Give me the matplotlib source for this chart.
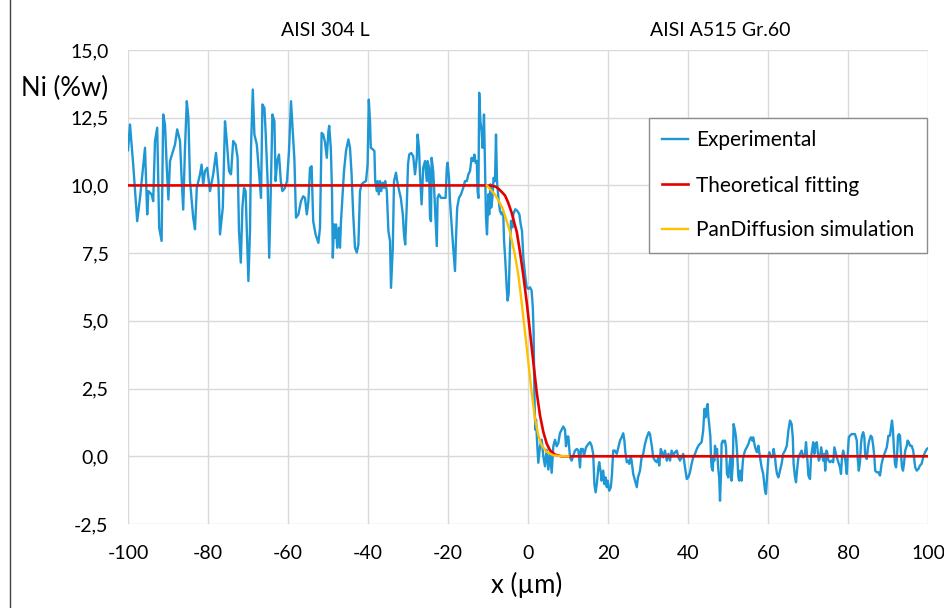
import matplotlib
matplotlib.use("Agg")
import matplotlib.pyplot as plt
import matplotlib.transforms as mtransforms
from matplotlib.lines import Line2D
from matplotlib.ticker import FuncFormatter

plt.rcParams['font.family'] = ['Lato', 'DejaVu Sans']

# ---------------- data ----------------
exp_x = [-100.0, -99.5, -98.7, -97.7, -97.0, -95.75, -95.2, -94.9, -94.1, -93.7, -93.25, -92.7, -92.2, -91.6,
         -91.2, -90.75, -90.3, -89.9, -89.5, -88.25, -87.7, -87.0, -86.6, -86.2, -85.75, -85.3, -84.9, -84.5,
         -83.7, -83.25, -82.8, -82.0, -81.6, -81.2, -80.75, -80.2, -79.5, -78.7, -78.0, -77.4, -77.0, -76.3,
         -75.75, -75.3, -74.75, -74.25, -73.7, -73.1, -72.6, -72.25, -71.8, -71.4, -71.0, -70.6, -70.3, -69.9,
         -69.5, -69.25, -68.8, -68.4, -67.8, -67.4, -66.75, -66.4, -65.9, -65.6, -65.1, -64.7, -64.25, -63.9,
         -63.4, -63.1, -62.7, -62.25, -61.8, -61.4, -60.75, -60.25, -59.75, -59.25, -58.8, -58.4, -58.0, -57.4,
         -56.75, -56.2, -55.75, -55.3, -54.9, -54.5, -54.1, -53.7, -53.1, -52.4, -52.0, -51.6, -51.2, -50.75,
         -50.3, -49.9, -49.7, -49.3, -49.0, -48.8, -48.5, -48.25, -48.0, -47.7, -47.3, -47.0, -46.75, -46.3,
         -46.0, -45.5, -44.9, -44.5, -44.1, -43.7, -43.25, -42.8, -42.4, -42.0, -41.6, -41.2, -40.5, -40.1,
         -39.8, -39.5, -39.3, -38.8, -38.4, -38.2, -37.8, -37.6, -37.3, -37.0, -36.7, -36.3, -36.0, -35.7,
         -35.3, -34.9, -34.5, -34.25, -33.8, -33.5, -33.0, -32.7, -32.2, -31.8, -31.3, -31.0, -30.7, -30.3,
         -30.0, -29.7, -29.2, -28.7, -28.25, -27.8, -27.6, -27.25, -27.0, -26.75, -26.6, -26.2, -25.75, -25.3,
         -25.1, -24.75, -24.5, -24.25, -24.1, -23.7, -23.4, -23.1, -22.8, -22.6, -22.25, -21.75, -21.2, -20.6,
         -20.3, -20.1, -19.75, -19.5, -19.1, -18.7, -18.25, -18.0, -17.7, -17.25, -16.75, -16.2, -15.75, -15.3,
         -14.9, -14.5, -14.1, -13.7, -13.4, -13.1, -12.8, -12.6, -12.4, -12.2, -11.9, -11.6, -11.35, -11.0,
         -10.75, -10.5, -10.25, -9.9, -9.7, -9.4, -9.2, -8.9, -8.6, -8.25, -8.0, -7.75, -7.4, -7.0,
         -6.6, -6.2, -6.0, -5.67, -5.33, -5.1, -4.83, -4.5, -4.25, -3.9, -3.67, -3.17, -2.67, -2.17,
         -1.83, -1.5, -1.17, -0.75, -0.33, 0.08, 0.5, 0.9, 1.2, 1.4, 1.55, 1.7, 1.85, 2.0,
         2.33, 2.58, 3.0, 3.42, 3.83, 4.25, 4.67, 5.08, 5.5, 5.92, 6.33, 6.75, 7.17, 7.58,
         8.0, 8.42, 8.83, 9.25, 9.5, 9.83, 10.08, 10.5, 10.9, 11.3, 11.75, 12.2, 12.6, 13.0,
         13.25, 13.7, 14.0, 14.5, 15.1, 15.5, 15.9, 16.3, 16.6, 16.9, 17.2, 17.6, 17.8, 18.2,
         18.4, 18.8, 19.1, 19.4, 19.7, 19.9, 20.3, 20.7, 21.0, 21.3, 21.7, 22.2, 22.6, 23.0,
         23.4, 23.8, 24.1, 24.3, 24.7, 25.1, 25.3, 25.7, 25.9, 26.3, 26.75, 27.2, 27.5, 27.75,
         28.0, 28.4, 28.8, 29.25, 29.7, 30.2, 30.5, 30.75, 31.0, 31.3, 31.75, 32.2, 32.6, 32.8,
         33.2, 33.5, 33.8, 34.25, 34.7, 35.1, 35.5, 35.9, 36.3, 36.75, 37.2, 37.6, 38.0, 38.4,
         38.8, 39.25, 39.7, 40.1, 40.5, 40.9, 41.3, 41.75, 42.2, 42.6, 43.0, 43.4, 43.8, 44.1,
         44.4, 44.7, 44.9, 45.1, 45.3, 45.6, 45.75, 45.9, 46.2, 46.3, 46.6, 46.75, 47.0, 47.25,
         47.6, 47.8, 48.0, 48.25, 48.4, 48.7, 48.9, 49.25, 49.5, 49.75, 50.1, 50.3, 50.6, 50.9,
         51.2, 51.4, 51.75, 52.0, 52.25, 52.6, 52.8, 53.1, 53.4, 53.6, 53.8, 54.25, 54.7, 55.1,
         55.5, 55.75, 56.1, 56.3, 56.6, 56.9, 57.25, 57.6, 58.0, 58.4, 58.8, 59.25, 59.5, 59.75,
         60.1, 60.3, 60.6, 60.9, 61.2, 61.4, 61.75, 62.0, 62.25, 62.6, 63.0, 63.4, 63.8, 64.25,
         64.7, 65.1, 65.5, 65.9, 66.2, 66.4, 66.75, 67.0, 67.25, 67.6, 68.0, 68.4, 68.8, 69.25,
         69.5, 69.8, 70.1, 70.5, 70.75, 71.0, 71.3, 71.6, 71.8, 72.2, 72.4, 72.7, 73.0, 73.3,
         73.6, 73.8, 74.1, 74.3, 74.6, 74.8, 75.1, 75.5, 75.9, 76.3, 76.6, 76.8, 77.2, 77.6,
         78.0, 78.25, 78.5, 78.8, 79.2, 79.4, 79.7, 79.9, 80.2, 80.5, 80.9, 81.3, 81.75, 82.2,
         82.4, 82.7, 83.0, 83.25, 83.5, 83.8, 84.1, 84.3, 84.7, 85.0, 85.3, 85.7, 86.0, 86.3,
         86.6, 86.8, 87.2, 87.6, 88.0, 88.4, 88.8, 89.25, 89.7, 90.1, 90.5, 90.75, 91.0, 91.25,
         91.5, 91.75, 92.0, 92.25, 92.5, 92.75, 93.0, 93.25, 93.5, 93.75, 94.0, 94.3, 94.7, 94.9,
         95.2, 95.5, 95.9, 96.3, 96.6, 96.8, 97.2, 97.6, 98.0, 98.4, 98.8, 99.25, 99.7, 100.0]

exp_y = [11.3, 12.25, 10.77, 8.68, 9.54, 11.39, 8.93, 9.79, 9.67, 9.42, 11.64, 12.13, 8.44, 7.95,
         12.62, 12.25, 10.65, 9.48, 10.9, 11.51, 12.07, 11.64, 10.28, 9.11, 11.39, 13.11, 12.5, 10.16,
         8.81, 8.38, 9.91, 10.41, 10.77, 10.04, 10.53, 10.65, 9.79, 10.41, 11.2, 10.16, 8.19, 9.18,
         12.37, 11.64, 10.53, 10.41, 11.64, 11.51, 11.02, 8.31, 7.15, 9.18, 9.91, 9.79, 8.31, 6.47,
         8.31, 11.39, 13.54, 11.88, 11.51, 10.77, 9.54, 12.99, 12.86, 12.0, 10.16, 7.33, 10.16, 12.62,
         12.37, 10.16, 10.9, 11.14, 10.16, 9.79, 9.91, 10.16, 11.27, 13.11, 12.0, 10.96, 8.81, 8.93,
         9.42, 9.6, 9.54, 8.93, 9.42, 10.65, 10.71, 8.68, 8.19, 7.88, 8.44, 11.94, 11.88, 11.6,
         11.02, 12.0, 12.2, 11.39, 9.79, 7.33, 8.56, 8.07, 8.56, 7.7, 8.44, 7.7, 8.68, 9.79,
         10.53, 11.27, 11.7, 11.39, 10.41, 8.93, 7.7, 7.52, 7.82, 9.79, 10.04, 10.1, 10.16, 10.77,
         13.17, 12.37, 11.39, 11.33, 11.27, 10.16, 9.79, 10.16, 9.67, 10.16, 9.79, 10.1, 9.91, 10.16,
         9.79, 8.31, 7.95, 6.22, 7.7, 10.16, 10.47, 10.16, 9.79, 9.54, 8.93, 8.19, 7.82, 9.3,
         10.77, 11.14, 11.2, 11.08, 10.41, 11.02, 11.88, 11.39, 10.41, 9.67, 9.3, 10.65, 10.9, 10.16,
         10.9, 10.65, 8.81, 8.68, 11.02, 10.53, 9.67, 8.68, 7.76, 9.54, 9.67, 9.54, 9.54, 9.54,
         10.65, 10.84, 10.28, 9.42, 8.56, 7.7, 6.84, 8.07, 9.18, 9.54, 9.67, 9.91, 10.16, 10.16,
         10.41, 10.53, 11.02, 10.9, 11.14, 10.84, 10.9, 9.79, 9.54, 13.42, 12.37, 12.0, 11.39, 12.62,
         10.77, 8.81, 8.19, 9.67, 8.93, 10.04, 9.18, 9.54, 10.28, 10.16, 11.88, 10.16, 9.54, 9.05,
         8.93, 9.05, 8.0, 7.22, 6.24, 5.75, 6.0, 7.71, 8.69, 8.45, 8.94, 9.12, 9.06, 8.94,
         8.57, 8.32, 7.34, 6.73, 6.24, 6.18, 6.24, 6.12, 5.5, 4.6, 2.8, 1.6, 0.98, 1.35,
         0.37, -0.24, 0.37, 0.61, 0.0, -0.37, 0.24, -0.49, 0.12, -0.61, 0.37, 0.61, 0.37, 0.49,
         0.86, 0.98, 1.1, 0.98, 0.37, 0.73, 0.73, -0.04, -0.16, 0.02, 0.21, 0.27, 0.21, -0.41,
         0.27, 0.27, 0.02, 0.33, 0.46, 0.52, 0.39, 0.09, -1.03, -1.33, -1.03, -0.41, -0.22, -0.59,
         -0.9, -0.53, -1.03, -0.78, -1.14, -0.9, -1.27, -1.14, -0.65, 0.21, 0.21, 0.09, 0.33, 0.58,
         0.7, 0.85, 0.58, 0.21, -0.22, -0.16, -0.28, -0.04, -0.16, -0.65, -0.9, -1.14, -0.78, -0.65,
         -0.53, -0.04, 0.09, 0.46, 0.7, 0.89, 0.82, 0.58, 0.33, -0.04, -0.16, -0.22, -0.04, -0.34,
         0.27, 0.15, -0.04, 0.21, -0.16, 0.09, -0.16, 0.21, 0.02, 0.15, 0.21, -0.04, -0.16, -0.04,
         0.09, -0.41, -0.84, -0.77, -0.59, -0.28, -0.04, 0.09, 0.27, 0.39, 0.46, 0.52, 0.95, 1.75,
         1.44, 1.81, 1.93, 1.44, 1.19, 0.7, -0.04, -0.41, -0.53, -0.04, -0.16, 0.39, 0.02, 0.27,
         -0.53, -0.78, -1.64, -0.65, 0.46, 0.58, 0.52, 0.58, 0.33, -0.65, -0.78, -0.41, -0.04, -0.9,
         -0.28, 1.19, 0.95, 0.7, 0.21, -0.78, -0.9, -0.53, -0.9, -0.41, -0.04, 0.21, 0.33, 0.46,
         0.64, 0.7, 0.58, 0.7, 0.46, 0.27, 0.15, 0.39, -0.04, -0.41, -0.65, -1.27, -1.39, -0.78,
         -0.04, 0.15, 0.02, -0.04, 0.02, 0.27, -0.04, -0.41, -0.65, -0.78, -0.53, -0.28, 0.09, 0.21,
         0.39, 0.95, 1.32, 1.19, 0.7, -0.28, -0.77, -0.96, -0.53, -0.04, 0.09, 0.21, -0.04, 0.09,
         0.52, -0.04, -0.71, -0.84, -0.04, 0.21, 0.52, 0.09, 0.46, 0.52, 0.21, -0.16, -0.04, 0.33,
         0.02, -0.16, 0.09, -0.53, 0.21, 0.15, -0.16, -0.22, -0.16, -0.22, 0.33, 0.21, -0.04, -0.22,
         -0.41, -0.65, -0.04, 0.21, -0.04, -0.22, -0.65, -0.04, 0.7, 0.76, 0.82, 0.82, 0.82, 0.58,
         -0.04, -0.53, -0.22, 0.46, 0.76, 0.89, 0.7, 0.02, -0.1, 0.33, 0.58, 0.76, 0.7, 0.39,
         -0.04, -0.53, -0.59, -0.59, -0.71, -0.28, -0.04, 0.15, 0.33, 0.76, 0.76, 1.07, 1.32, 0.95,
         0.21, -0.28, -0.41, -0.04, 0.76, 0.82, 0.76, 0.09, -0.41, -0.53, -0.28, 0.21, 0.39, 0.58,
         0.52, 0.39, 0.39, 0.21, -0.16, -0.41, -0.53, -0.47, -0.34, -0.28, -0.04, 0.15, 0.27, 0.3]

fit_x = [-100.0, -10.75, -9.0, -8.0, -7.4, -6.5, -5.75, -5.0, -4.1, -3.4, -2.8, -2.0, -1.17, -0.33,
         0.5, 1.33, 2.17, 3.0, 3.83, 4.67, 5.5, 6.75, 8.4, 100.0]
fit_y = [10.0, 10.0, 9.99, 9.95, 9.88, 9.75, 9.63, 9.38, 9.0, 8.6, 8.28, 7.54, 6.68, 5.7,
         4.59, 3.48, 2.37, 1.51, 0.9, 0.47, 0.22, 0.06, 0.0, 0.0]

sim_x = [-10.3, -9.1, -8.2, -7.4, -6.5, -5.75, -4.5, -3.25, -2.4, -1.6, -0.75, 0.08, 0.9, 1.75,
         2.6, 3.4, 4.67, 6.3, 8.0, 10.1]
sim_y = [10.0, 9.8, 9.65, 9.45, 9.2, 8.89, 8.28, 7.42, 6.68, 5.7, 4.59, 3.48, 2.37, 1.39,
         0.77, 0.41, 0.16, 0.04, 0.01, 0.0]

x_ticks = [-100, -80, -60, -40, -20, 0, 20, 40, 60, 80, 100]
y_ticks = [-2.5, 0.0, 2.5, 5.0, 7.5, 10.0, 12.5, 15.0]
series_labels = ["Experimental", "Theoretical fitting", "PanDiffusion simulation"]
region_labels = ["AISI 304 L", "AISI A515 Gr.60"]
region_pos = [-50.75, 48.0]

# ---------------- figure ----------------
W, H = 944, 608
fig = plt.figure(figsize=(W / 100, H / 100), dpi=100)
ax = fig.add_axes([128 / W, (H - 524) / H, 800 / W, 474 / H])

ax.plot(exp_x, exp_y, color="#1F97D5", lw=1.7, label=series_labels[0], zorder=3)
ax.plot(fit_x, fit_y, color="#E50000", lw=1.9, label=series_labels[1], zorder=4)
ax.plot(sim_x, sim_y, color="#FFC000", lw=1.7, label=series_labels[2], zorder=5)

ax.set_xlim(-100, 100)
ax.set_ylim(-2.5, 15)
ax.set_xticks(x_ticks)
ax.set_yticks(y_ticks)
ax.xaxis.set_major_formatter(FuncFormatter(lambda v, p: f"{v:.0f}".replace("\u2212", "-")))
ax.yaxis.set_major_formatter(FuncFormatter(lambda v, p: f"{v:.1f}".replace(".", ",")))
ax.tick_params(axis="both", length=0, labelsize=14, colors="#000000")
ax.tick_params(axis="x", pad=15)
ax.tick_params(axis="y", pad=14)
ax.grid(True, color="#D9D9D9", lw=1.0, zorder=0)
ax.set_axisbelow(True)
for s in ax.spines.values():
    s.set_visible(False)

trans = mtransforms.blended_transform_factory(ax.transData, ax.transAxes)
for lbl, xp in zip(region_labels, region_pos):
    ax.text(xp, 1.042, lbl, transform=trans, ha="center", va="center", fontsize=14)

fig.text(65 / W, 1 - 88 / H, "Ni (%w)", ha="center", va="center", fontsize=18.5)
fig.text(527 / W, 1 - 585 / H, "x (\u00b5m)", ha="center", va="center", fontsize=18.5)

leg = ax.legend(loc="upper right", bbox_to_anchor=(927 / W, 1 - 118 / H),
                bbox_transform=fig.transFigure, fontsize=15, frameon=True,
                fancybox=False, framealpha=1, edgecolor="#8C8C8C",
                handlelength=1.25, handletextpad=0.4, labelspacing=1.2,
                borderpad=0.6, borderaxespad=0)
leg.get_frame().set_linewidth(1.0)

# thin frame line at the left edge of the picture
fig.add_artist(Line2D([10 / W, 10 / W], [0, 1], transform=fig.transFigure,
                      color="#404040", lw=1.0))

fig.savefig("out.png", dpi=100)
